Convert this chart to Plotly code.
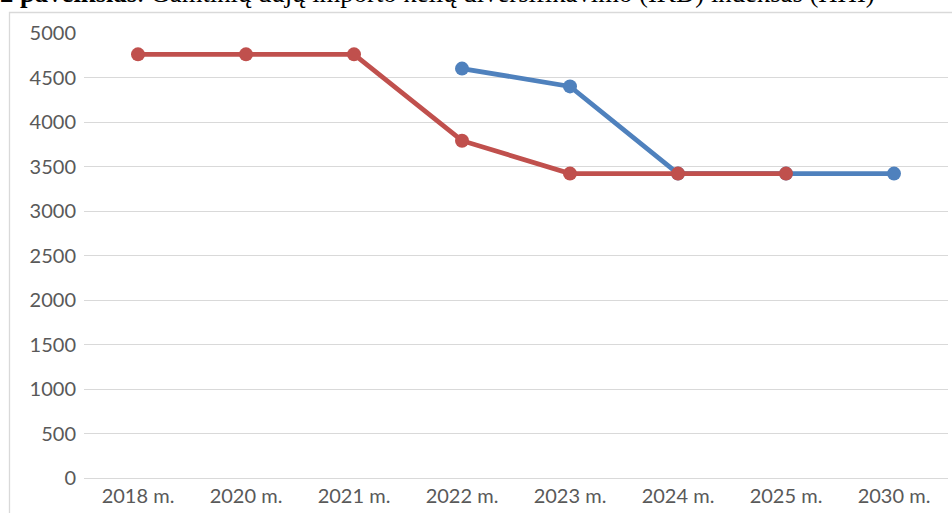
import plotly.graph_objects as go

categories = ["2018 m.", "2020 m.", "2021 m.", "2022 m.", "2023 m.", "2024 m.", "2025 m.", "2030 m."]
blue_values = [None, None, None, 4600, 4400, 3420, 3420, 3420]
red_values = [4760, 4760, 4760, 3790, 3420, 3420, 3420, None]
y_ticks = [0, 500, 1000, 1500, 2000, 2500, 3000, 3500, 4000, 4500, 5000]

W, H = 952, 513
ML, MR, MT, MB = 84, 4, 33, 35
PW, PH = W - ML - MR, H - MT - MB

def px_x(p):
    return (p - ML) / PW

def px_y(p):
    return 1 - (p - MT) / PH

fig = go.Figure()
fig.add_trace(go.Scatter(
    x=categories, y=blue_values, mode="lines+markers",
    line=dict(color="#4F81BD", width=4.8),
    marker=dict(color="#4F81BD", size=14),
    connectgaps=False, showlegend=False,
))
fig.add_trace(go.Scatter(
    x=categories, y=red_values, mode="lines+markers",
    line=dict(color="#C0504D", width=4.8),
    marker=dict(color="#C0504D", size=14),
    connectgaps=False, showlegend=False,
))

fig.update_layout(
    width=W, height=H,
    margin=dict(l=ML, r=MR, t=MT, b=MB, pad=0),
    plot_bgcolor="white", paper_bgcolor="white",
    xaxis=dict(
        type="category", categoryorder="array", categoryarray=categories,
        range=[-0.5, len(categories) - 0.5],
        showgrid=False, showline=False, zeroline=False, ticks="",
        tickfont=dict(family="Lato", size=20, color="#595959"),
        ticklabelstandoff=4,
    ),
    yaxis=dict(
        range=[0, 5000], tickvals=y_ticks, ticktext=[str(v) for v in y_ticks],
        showgrid=True, gridcolor="#D9D9D9", gridwidth=1.3,
        zeroline=True, zerolinecolor="#D9D9D9", zerolinewidth=1.3,
        showline=False, ticks="",
        tickfont=dict(family="Lato", size=20, color="#595959"),
        ticklabelstandoff=7,
    ),
    shapes=[dict(
        type="rect", xref="paper", yref="paper",
        x0=px_x(9.5), x1=px_x(965), y0=px_y(540), y1=px_y(12.5),
        line=dict(color="#D9D9D9", width=1.3), fillcolor="rgba(0,0,0,0)", layer="below",
    )],
    annotations=[dict(
        xref="paper", yref="paper", x=px_x(-2), y=px_y(-6.5),
        xanchor="left", yanchor="middle", showarrow=False,
        text="<b>2 paveikslas</b>. Gamtinių dujų importo kelių diversifikavimo (IKD) indeksas (HHI)",
        font=dict(family="Liberation Serif", size=26.7, color="black"),
    )],
)

fig.write_html("out.html", config={"displayModeBar": False},
               post_script="document.body.style.margin='0';")
